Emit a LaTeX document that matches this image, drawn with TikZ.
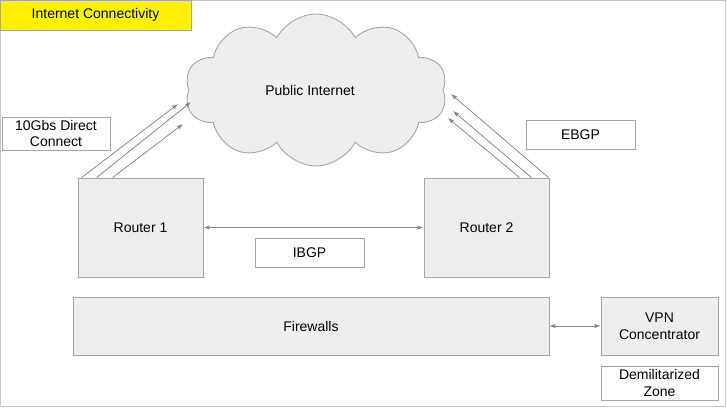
\documentclass[tikz,border=0pt]{standalone}
\usepackage{fontspec}
\setmainfont{Liberation Sans}
\usetikzlibrary{shapes.symbols,arrows.meta}
\definecolor{boxfill}{HTML}{EEEEEE}
\definecolor{boxline}{HTML}{A6A6A6}
\definecolor{arrline}{HTML}{8A8A8A}
\definecolor{frameline}{HTML}{C8C8C8}
\tikzset{
  base/.style={rectangle, draw=boxline, line width=0.9pt, inner sep=0pt, align=center, font=\fontsize{14}{16.5}\selectfont},
  graybox/.style={base, fill=boxfill},
  labelbox/.style={base, fill=white},
  conn/.style={draw=arrline, line width=0.8pt, -{Latex[length=6pt,width=4.5pt]}},
  biconn/.style={draw=arrline, line width=0.8pt, {Latex[length=6pt,width=4.5pt]}-{Latex[length=6pt,width=4.5pt]}}
}
\begin{document}
\begin{tikzpicture}[x=1pt,y=-1pt]
\useasboundingbox (0,0) rectangle (727,410);
\draw[frameline, line width=1pt] (0.5,0.5) rectangle (725,406);
\node[base, fill=yellow, minimum width=191pt, minimum height=30pt] (title) at (95.5,15) {Internet Connectivity};
\node[cloud, cloud puffs=10, cloud puff arc=125, aspect=1.75, draw=boxline, fill=boxfill, line width=0.9pt,
  minimum width=262pt, minimum height=152pt, inner sep=0pt, font=\fontsize{14}{16.5}\selectfont] (inet) at (316,90) {Public Internet\hspace*{12pt}};
\node[graybox, minimum width=125pt, minimum height=99pt] (r1) at (140.5,227.5) {Router 1};
\node[graybox, minimum width=125pt, minimum height=99pt] (r2) at (486.5,227.5) {Router 2};
\node[labelbox, minimum width=109pt, minimum height=29pt] (ibgp) at (309.5,252.5) {IBGP};
\node[labelbox, minimum width=108pt, minimum height=33pt] (dc) at (56,133.5) {10Gbs Direct\\Connect};
\node[labelbox, minimum width=109pt, minimum height=29pt] (ebgp) at (580.5,134.5) {EBGP};
\node[graybox, minimum width=476pt, minimum height=58pt] (fw) at (311,326) {Firewalls};
\node[graybox, minimum width=117pt, minimum height=58pt] (vpn) at (659.5,326) {VPN\\Concentrator};
\node[labelbox, minimum width=117pt, minimum height=34pt] (dmz) at (659.5,383) {Demilitarized\\Zone};
% arrow tips on the cloud
\coordinate (t1) at (178,104);
\coordinate (t2) at (191,102);
\coordinate (t3) at (183,124);
\coordinate (u1) at (451,94);
\coordinate (u2) at (453,111);
\coordinate (u3) at (448,118);
\draw[conn] ([xshift=4pt]r1.north west) -- (t1);
\draw[conn] ([xshift=19pt]r1.north west) -- (t2);
\draw[conn] ([xshift=35pt]r1.north west) -- (t3);
\draw[conn] ([xshift=-1pt]r2.north east) -- (u1);
\draw[conn] ([xshift=-18pt]r2.north east) -- (u2);
\draw[conn] ([xshift=-30pt]r2.north east) -- (u3);
\draw[biconn] (r1.east) -- (r2.west);
\draw[biconn] (fw.east) -- (vpn.west);
\end{tikzpicture}
\end{document}
